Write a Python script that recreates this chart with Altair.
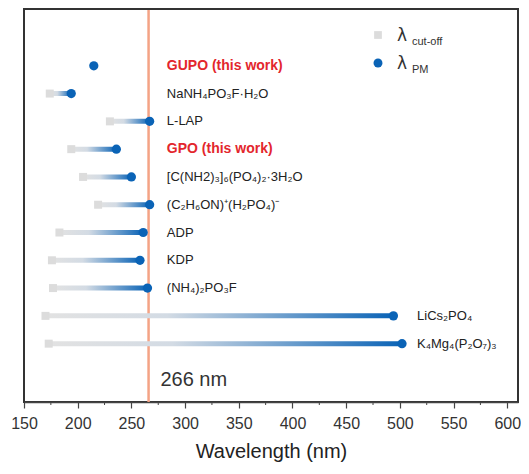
import altair as alt
import pandas as pd

materials = ["GUPO (this work)", "NaNH₄PO₃F·H₂O", "L-LAP", "GPO (this work)",
             "[C(NH2)₃]₆(PO₄)₂·3H₂O", "(C₂H₆ON)⁺(H₂PO₄)⁻", "ADP", "KDP",
             "(NH₄)₂PO₃F", "LiCs₂PO₄", "K₄Mg₄(P₂O₇)₃"]
cutoff = [None, 174, 230, 194, 205, 219, 183, 176, 177, 170, 173]
pm = [215, 194, 267, 236, 250, 267, 261, 258, 265, 494, 502]
this_work = [True, False, False, True, False, False, False, False, False, False, False]
label_x = [283, 283, 283, 283, 283, 283, 283, 283, 283, 516, 516]
row = [2, 3, 4, 5, 6, 7, 8, 9, 10, 11, 12]
x_ticks = [150, 200, 250, 300, 350, 400, 450, 500, 550, 600]
minor_ticks = [175, 225, 275, 325, 375, 425, 475, 525, 575]
frame_x = [150, 610]

df = pd.DataFrame({"material": materials, "cutoff": cutoff, "pm": pm,
                   "this_work": this_work, "label_x": label_x, "row": row})

W, H = 494, 394
xs = alt.Scale(domain=[150, 610], nice=False)
ys = alt.Scale(domain=[0.1, 13.92], nice=False, reverse=True)
X_AX = alt.Axis(values=x_ticks, title="Wavelength (nm)", grid=False, tickSize=6,
                labelFontSize=16, labelColor="#333", titleFontSize=20,
                titleFontWeight="normal", titleColor="#222", tickColor="#444",
                domainColor="#444", domainWidth=1.5, tickWidth=1.2,
                labelPadding=7, titlePadding=10, labelFlush=False,
                labelFont="Liberation Sans", titleFont="Liberation Sans")
base = alt.Chart(df)

grad = alt.Gradient(gradient="linear",
                    stops=[alt.GradientStop(color="#e2e2e2", offset=0),
                           alt.GradientStop(color="#d3dbe4", offset=0.35),
                           alt.GradientStop(color="#0a63b6", offset=1)],
                    x1=0, x2=1, y1=0, y2=0)

bars = base.transform_filter("isValid(datum.cutoff)").mark_bar(
    size=5, orient="horizontal", color=grad).encode(
    x=alt.X("cutoff:Q", scale=xs, axis=X_AX),
    x2="pm:Q",
    y=alt.Y("row:Q", scale=ys, axis=None))

squares = base.transform_filter("isValid(datum.cutoff)").mark_point(
    shape="square", filled=True, size=64, color="#dcdcdc", opacity=1).encode(
    x=alt.X("cutoff:Q", scale=xs), y=alt.Y("row:Q", scale=ys))

circles = base.mark_point(shape="circle", filled=True, size=85, color="#0a63b6",
                          opacity=1).encode(
    x=alt.X("pm:Q", scale=xs), y=alt.Y("row:Q", scale=ys))

vline = alt.Chart(pd.DataFrame({"x": [266]})).mark_rule(
    color="#f4a385", strokeWidth=2.5).encode(x=alt.X("x:Q", scale=xs))

minor = alt.Chart(pd.DataFrame({"x": minor_ticks})).mark_rule(
    color="#444", strokeWidth=1).encode(
    x=alt.X("x:Q", scale=xs), y=alt.value(H), y2=alt.value(H + 3))

# frame sides at the x-domain ends, full height; top edge as a rule
frame_sides = alt.Chart(pd.DataFrame({"x": frame_x})).mark_rule(
    color="#333333", strokeWidth=2).encode(
    x=alt.X("x:Q", scale=xs), y=alt.value(0), y2=alt.value(H))
frame_top = alt.Chart(pd.DataFrame({"x": [150], "x2": [610]})).mark_rule(
    color="#333333", strokeWidth=2).encode(
    x=alt.X("x:Q", scale=xs), x2="x2:Q", y=alt.value(1))

labels_black = base.transform_filter("!datum.this_work").mark_text(
    align="left", baseline="middle", fontSize=13, color="#222",
    font="Liberation Sans").encode(
    x=alt.X("label_x:Q", scale=xs), y=alt.Y("row:Q", scale=ys), text="material:N")

labels_red = base.transform_filter("datum.this_work").mark_text(
    align="left", baseline="middle", fontSize=14, fontWeight="bold",
    color="#e3262d", font="Liberation Sans").encode(
    x=alt.X("label_x:Q", scale=xs), y=alt.Y("row:Q", scale=ys), text="material:N")

nm = alt.Chart(pd.DataFrame({"x": [277], "y": [13.3], "t": ["266 nm"]})).mark_text(
    align="left", baseline="middle", fontSize=20, color="#333",
    font="Liberation Sans").encode(
    x=alt.X("x:Q", scale=xs), y=alt.Y("y:Q", scale=ys), text="t:N")

# legend
leg_sq = alt.Chart(pd.DataFrame({"a": [0]})).mark_point(
    shape="square", filled=True, size=60, color="#dcdcdc", opacity=1).encode(
    x=alt.value(354), y=alt.value(27))
leg_ci = alt.Chart(pd.DataFrame({"a": [0]})).mark_point(
    shape="circle", filled=True, size=80, color="#0a63b6", opacity=1).encode(
    x=alt.value(354), y=alt.value(55))
leg_l1 = alt.Chart(pd.DataFrame({"t": ["λ"]})).mark_text(
    align="left", baseline="middle", fontSize=17, color="#333",
    font="DejaVu Sans").encode(x=alt.value(373), y=alt.value(28), text="t:N")
leg_l2 = alt.Chart(pd.DataFrame({"t": ["λ"]})).mark_text(
    align="left", baseline="middle", fontSize=17, color="#333",
    font="DejaVu Sans").encode(x=alt.value(373), y=alt.value(56), text="t:N")
leg_s1 = alt.Chart(pd.DataFrame({"t": ["cut-off"]})).mark_text(
    align="left", baseline="middle", fontSize=11, color="#333",
    font="Liberation Sans").encode(x=alt.value(388), y=alt.value(34), text="t:N")
leg_s2 = alt.Chart(pd.DataFrame({"t": ["PM"]})).mark_text(
    align="left", baseline="middle", fontSize=11, color="#333",
    font="Liberation Sans").encode(x=alt.value(388), y=alt.value(62), text="t:N")

chart = alt.layer(vline, bars, squares, circles, minor, frame_sides, frame_top,
                  labels_black, labels_red, nm, leg_sq, leg_ci,
                  leg_l1, leg_l2, leg_s1, leg_s2).properties(
    width=W, height=H, autosize=alt.AutoSizeParams(type="none"),
    padding={"left": 16, "top": 0, "right": 3, "bottom": 62}
).configure_view(stroke="#333333", strokeWidth=2)

chart.save("out.html", embed_options={"renderer": "svg", "actions": False})
